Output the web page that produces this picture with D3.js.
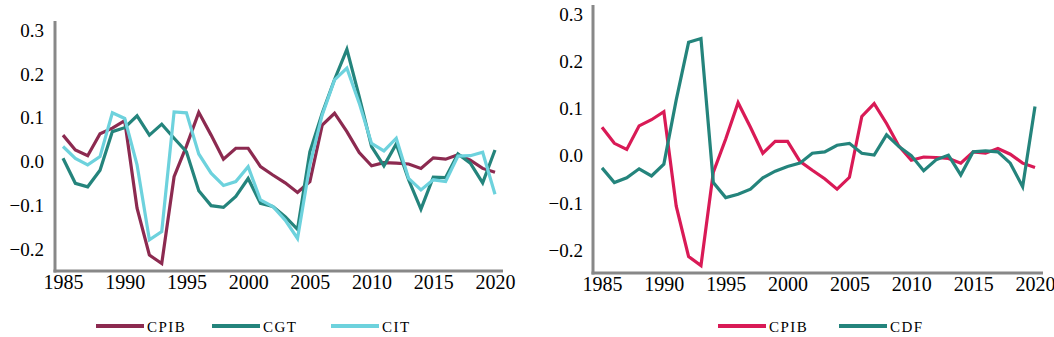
<!DOCTYPE html>
<html>
<head>
<meta charset="utf-8">
<script src="https://cdn.jsdelivr.net/npm/d3@7/dist/d3.min.js"></script>
<style>
  html, body { margin: 0; padding: 0; background: #fff; }
  svg { display: block; }
  text { font-family: "Liberation Serif", "Times New Roman", serif; fill: #000; }
</style>
</head>
<body>
<svg id="chart" width="1054" height="337"></svg>
<script>
// ---- data ----
const years = d3.range(1985, 2021);
const cpib = [0.060, 0.026, 0.013, 0.063, 0.076, 0.093, -0.107, -0.214, -0.233, -0.035,
  0.035, 0.112, 0.060, 0.005, 0.030, 0.030, -0.012, -0.031, -0.049, -0.071,
  -0.046, 0.083, 0.110, 0.068, 0.020, -0.010, -0.003, -0.004, -0.006, -0.016,
  0.008, 0.005, 0.015, 0.003, -0.016, -0.025];
const cgt = [0.007, -0.050, -0.058, -0.020, 0.068, 0.077, 0.104, 0.060, 0.085, 0.053,
  0.022, -0.067, -0.101, -0.105, -0.080, -0.039, -0.096, -0.103, -0.126, -0.155,
  0.022, 0.110, 0.187, 0.256, 0.148, 0.034, -0.010, 0.040, -0.042, -0.109,
  -0.036, -0.037, 0.017, -0.004, -0.049, 0.026];
const cit = [0.034, 0.007, -0.008, 0.011, 0.111, 0.098, -0.008, -0.179, -0.160, 0.113,
  0.111, 0.017, -0.027, -0.055, -0.046, -0.012, -0.088, -0.103, -0.134, -0.176,
  -0.008, 0.106, 0.186, 0.213, 0.133, 0.041, 0.024, 0.053, -0.039, -0.065,
  -0.042, -0.046, 0.012, 0.013, 0.021, -0.075];
const cdf = [-0.026, -0.057, -0.047, -0.028, -0.043, -0.018, 0.118, 0.240, 0.248, -0.057,
  -0.089, -0.082, -0.071, -0.047, -0.033, -0.023, -0.016, 0.005, 0.008, 0.022,
  0.026, 0.005, 0.001, 0.044, 0.019, 0.000, -0.032, -0.009, 0.001, -0.041,
  0.008, 0.010, 0.008, -0.016, -0.066, 0.104];
const xTicks = [1985, 1990, 1995, 2000, 2005, 2010, 2015, 2020];
const yTicks = [-0.2, -0.1, 0.0, 0.1, 0.2, 0.3];

const leftSeries = [
  {name: "CPIB", values: cpib, color: "#8c2a50"},
  {name: "CGT", values: cgt, color: "#24847c"},
  {name: "CIT", values: cit, color: "#6dd2dd"}
];
const rightSeries = [
  {name: "CPIB", values: cpib, color: "#d91a56"},
  {name: "CDF", values: cdf, color: "#24847c"}
];

const svg = d3.select("#chart");
const fmt = d3.format(".1f");

function panel(cfg) {
  const x = d3.scaleLinear().domain([1985, 2020]).range([cfg.x0, cfg.x1]);
  const y = d3.scaleLinear().domain([-0.2, 0.3]).range([cfg.yBot, cfg.yTop]);
  const g = svg.append("g");

  // y tick labels
  const ya = d3.axisLeft(y).tickValues(yTicks).tickSize(0).tickPadding(0).tickFormat(d => fmt(d));
  const yg = g.append("g").attr("transform", `translate(${cfg.axisX - cfg.yLabelGap},0)`).call(ya);
  yg.select(".domain").remove();
  yg.selectAll("text").attr("font-size", 19).attr("font-family", "Liberation Serif").attr("fill", "#000").attr("dy", "0.33em");

  // x tick labels (centred half a year before each tick year)
  const xa = d3.axisBottom(d3.scaleLinear().domain([1984.5, 2019.5]).range([cfg.x0, cfg.x1]))
    .tickValues(xTicks.map(t => t - 0.5)).tickSize(0).tickPadding(0).tickFormat((d, i) => xTicks[i]);
  const xg = g.append("g").attr("transform", `translate(0,${cfg.axisY + 4})`).call(xa);
  xg.select(".domain").remove();
  xg.selectAll("text").attr("font-size", 20).attr("font-family", "Liberation Serif").attr("fill", "#000").attr("dy", "0.71em");

  // axis lines
  g.append("line").attr("x1", cfg.axisX).attr("x2", cfg.axisX)
    .attr("y1", cfg.axisTop).attr("y2", cfg.axisY + 1.5)
    .attr("stroke", "#888").attr("stroke-width", 3);
  g.append("line").attr("x1", cfg.axisX - 1.5).attr("x2", cfg.axisRight)
    .attr("y1", cfg.axisY).attr("y2", cfg.axisY)
    .attr("stroke", "#888").attr("stroke-width", 3);

  const line = d3.line().x((d, i) => x(years[i])).y(d => y(d));
  cfg.series.forEach(s => {
    g.append("path").datum(s.values).attr("d", line)
      .attr("fill", "none").attr("stroke", s.color).attr("stroke-width", 3.2)
      .attr("stroke-linejoin", "miter").attr("stroke-linecap", "butt");
  });

  // legend
  cfg.series.forEach((s, i) => {
    const lx = cfg.legendX[i];
    g.append("line").attr("x1", lx).attr("x2", lx + 48)
      .attr("y1", 326).attr("y2", 326)
      .attr("stroke", s.color).attr("stroke-width", 4);
    g.append("text").attr("x", lx + 51).attr("y", 332)
      .attr("font-size", 15).attr("letter-spacing", "1.5px").text(s.name);
  });
}

panel({x0: 63, x1: 495, yTop: 30, yBot: 249, axisX: 55, axisTop: 21, axisY: 271, axisRight: 503,
  yLabelGap: 11, series: leftSeries, legendX: [96, 212, 331]});
panel({x0: 602, x1: 1035, yTop: 14, yBot: 250, axisX: 593, axisTop: 5, axisY: 273, axisRight: 1043,
  yLabelGap: 10, series: rightSeries, legendX: [718, 839]});
</script>
</body>
</html>
